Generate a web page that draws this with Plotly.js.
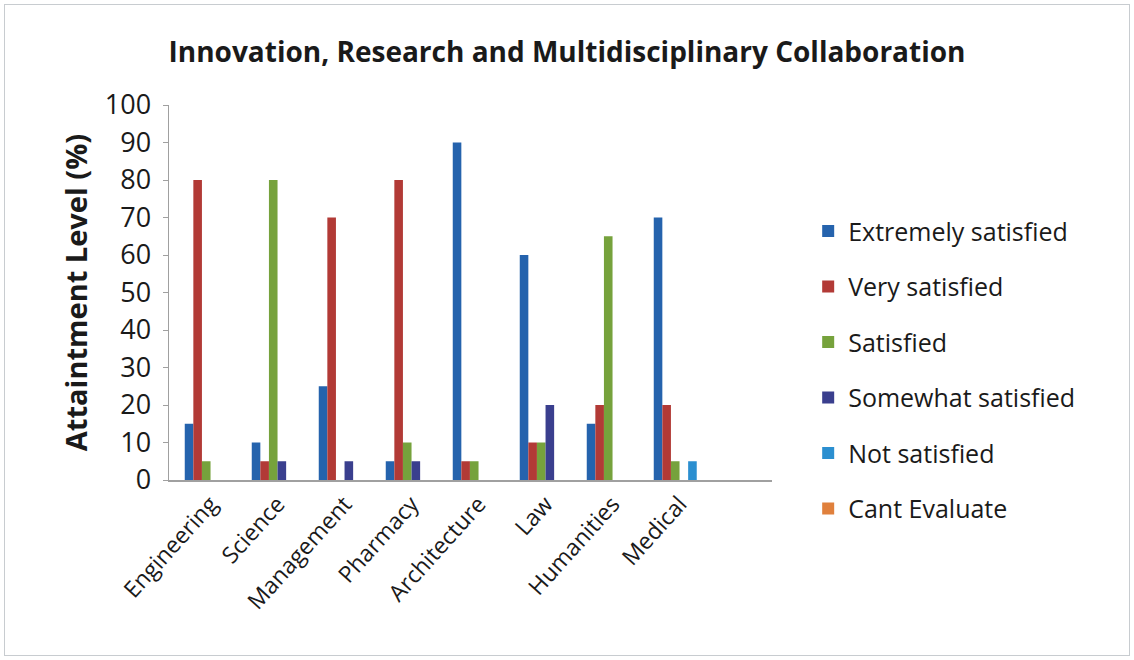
<!DOCTYPE html>
<html>
<head>
<meta charset="utf-8">
<script src="https://cdn.plot.ly/plotly-3.0.1.min.js"></script>
<style>
html,body{margin:0;padding:0;background:#fff;}
#chart{width:1134px;height:660px;}
#frame{position:absolute;left:4px;top:4px;width:1124px;height:650px;border:1px solid #c8ccd0;pointer-events:none;}
</style>
</head>
<body>
<div id="chart"></div>
<div id="frame"></div>
<script>
const categories = ["Engineering","Science","Management","Pharmacy","Architecture","Law","Humanities","Medical"];
const seriesNames = ["Extremely satisfied","Very satisfied","Satisfied","Somewhat satisfied","Not satisfied","Cant Evaluate"];
const extremelySatisfied = [15, 10, 25, 5, 90, 60, 15, 70];
const verySatisfied      = [80, 5, 70, 80, 5, 10, 20, 20];
const satisfied          = [5, 80, 0, 10, 5, 10, 65, 5];
const somewhatSatisfied  = [0, 5, 5, 5, 0, 20, 0, 0];
const notSatisfied       = [0, 0, 0, 0, 0, 0, 0, 5];
const cantEvaluate       = [0, 0, 0, 0, 0, 0, 0, 0];
const yTicks = [0,10,20,30,40,50,60,70,80,90,100];

const allValues = [extremelySatisfied, verySatisfied, satisfied, somewhatSatisfied, notSatisfied, cantEvaluate];
const colors = ["#2563ad", "#b23a36", "#76a23c", "#3a3f8e", "#2b8fd0", "#e0803c"];

const traces = seriesNames.map((name, i) => ({
  type: "bar",
  name: name,
  x: categories,
  y: allValues[i],
  marker: {color: colors[i]},
  legendgroup: "g" + i,
  hoverinfo: "x+y+name"
}));

const FONT = "Open Sans, Lato, sans-serif";

const layout = {
  width: 1134,
  height: 660,
  paper_bgcolor: "#ffffff",
  plot_bgcolor: "#ffffff",
  margin: {l: 169, r: 362, t: 105, b: 180},
  barmode: "group",
  bargap: 0.23,
  bargroupgap: 0,
  title: {
    text: "<b>Innovation, Research and Multidisciplinary Collaboration</b>",
    font: {family: FONT, size: 28, color: "#1a1a1a"},
    x: 0.5, xanchor: "center", y: 0.921, yanchor: "middle"
  },
  xaxis: {
    type: "category",
    range: [-0.62, 8.38],
    showline: true, linecolor: "#a0a0a0", linewidth: 1.5,
    ticks: "", showgrid: false, zeroline: false,
    tickangle: -48,
    tickfont: {family: FONT, size: 23, color: "#1a1a1a"}
  },
  yaxis: {
    range: [0, 100],
    tickvals: yTicks,
    showline: true, linecolor: "#a0a0a0", linewidth: 1.5,
    ticks: "outside", ticklen: 5, tickcolor: "#a0a0a0",
    showgrid: false, zeroline: false,
    ticklabelstandoff: 6,
    tickfont: {family: FONT, size: 27, color: "#1a1a1a"},
    title: {
      text: "<b>Attaintment Level (%)</b>",
      font: {family: FONT, size: 29, color: "#1a1a1a"},
      standoff: 8
    }
  },
  legend: {
    x: 1.06, xanchor: "left", y: 0.725, yanchor: "top",
    font: {family: FONT, size: 25, color: "#1a1a1a"},
    tracegroupgap: 20,
    itemwidth: 30,
    bgcolor: "rgba(0,0,0,0)"
  },
  showlegend: true
};

Plotly.newPlot("chart", traces, layout, {displayModeBar: false, staticPlot: true});
</script>
</body>
</html>
